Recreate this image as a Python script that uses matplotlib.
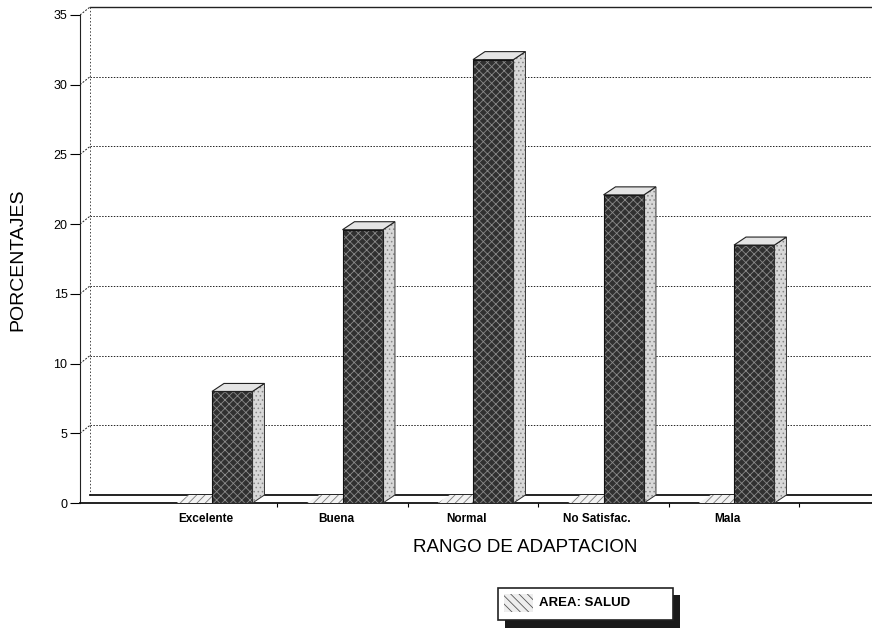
import matplotlib
matplotlib.use("Agg")
import matplotlib.pyplot as plt
from matplotlib.patches import Polygon, Rectangle

plt.rcParams['font.family'] = ['Liberation Sans', 'DejaVu Sans']
plt.rcParams['hatch.linewidth'] = 0.6

categories = ["Excelente", "Buena", "Normal", "No Satisfac.", "Mala"]
values = [8.0, 19.6, 31.8, 22.1, 18.5]
yticks = [0, 5, 10, 15, 20, 25, 30, 35]
series_name = "AREA: SALUD"
xlabel = "RANGO DE ADAPTACION"
ylabel = "PORCENTAJES"

W, H = 872, 635
fig = plt.figure(figsize=(W / 100, H / 100), dpi=100)

def fx(px):
    return px / W

def fy(py):
    return 1 - py / H

# axes: pixel x 80..872, y 503 (0) .. 3 (top)
ax = fig.add_axes([fx(80), fy(503), fx(872) - fx(80), fy(3) - fy(503)])
px_per_x = 130.5
px_per_y = 488.0 / 35.0
x0 = (80 - 212) / px_per_x
x1 = x0 + 792 / px_per_x
ax.set_xlim(x0, x1)
ax.set_ylim(0, 500 / px_per_y)

ddx = 12 / px_per_x
ddy = 8 / px_per_y
wall = x0 + 10 / px_per_x
bw = 0.31

# gridlines with 3D connectors
for t in yticks:
    if t == 0:
        continue
    ax.plot([x0, wall], [t, t + ddy], color='#222222', lw=0.7, ls=(0, (2, 1.5)))
    ls = '-' if t == 35 else (0, (1.5, 1.5))
    lw = 1.0 if t == 35 else 0.7
    ax.plot([wall, x1], [t + ddy, t + ddy], color='#222222', lw=lw, ls=ls, zorder=1)
# back wall
ax.plot([wall, wall], [ddy, 35 + ddy], color='#444444', lw=0.7, ls=(0, (1.5, 2)), zorder=1)
# floor line
ax.plot([wall, x1], [ddy, ddy], color='#111111', lw=1.3, zorder=2)

positions = list(range(len(categories)))
for i, v in zip(positions, values):
    # hatched floor segment (empty series)
    ax.add_patch(Polygon([(i - 0.27, 0), (i, 0), (i + ddx, ddy), (i - 0.27 + ddx, ddy)],
                         closed=True, facecolor='#f2f2f2', edgecolor='#777777',
                         hatch='////', lw=0, zorder=3))
    # front face
    ax.bar(i + bw / 2, v, width=bw, color='#303030', edgecolor='#8a8a8a',
           hatch='xxxx', lw=0, zorder=4)
    ax.add_patch(Rectangle((i, 0), bw, v, fill=False, edgecolor='#111111', lw=0.8, zorder=5))
    # side face
    side = [(i + bw, 0), (i + bw + ddx, ddy), (i + bw + ddx, v + ddy), (i + bw, v)]
    ax.add_patch(Polygon(side, closed=True, facecolor='#d8d8d8', edgecolor='#888888',
                         hatch='....', lw=0, zorder=4))
    ax.add_patch(Polygon(side, closed=True, fill=False, edgecolor='#333333', lw=0.7, zorder=5))
    # top face
    ax.add_patch(Polygon([(i, v), (i + ddx, v + ddy), (i + bw + ddx, v + ddy), (i + bw, v)],
                         closed=True, facecolor='#e4e4e4', edgecolor='#222222', lw=0.8, zorder=5))

for s in ['top', 'right']:
    ax.spines[s].set_visible(False)
ax.spines['left'].set_bounds(0, 35)
ax.spines['left'].set_color('#222222')
ax.spines['bottom'].set_color('#111111')
ax.spines['bottom'].set_linewidth(1.3)

ax.set_yticks(yticks)
ax.set_yticklabels([str(t) for t in yticks], fontsize=9)
ax.tick_params(axis='y', direction='out', length=7, width=0.8, pad=2)

ax.set_xticks([p - 0.05 for p in positions])
ax.set_xticklabels(categories, fontsize=8.5, fontweight='bold')
ax.tick_params(axis='x', length=0, pad=7)
ax.set_xticks([p + 0.5 for p in positions], minor=True)
ax.tick_params(axis='x', which='minor', length=3, width=0.8, direction='out')

fig.text(fx(525), fy(548), xlabel, fontsize=13.5, ha='center', va='center')
fig.text(fx(18), fy(260), ylabel, fontsize=14, ha='center', va='center', rotation=90)

# legend (custom, with shadow)
fig.add_artist(Rectangle((fx(505), fy(628)), fx(680) - fx(505), fy(595) - fy(628),
                         transform=fig.transFigure, facecolor='#1a1a1a', edgecolor='none'))
fig.add_artist(Rectangle((fx(498), fy(620)), fx(673) - fx(498), fy(588) - fy(620),
                         transform=fig.transFigure, facecolor='white', edgecolor='#222222', lw=1.2))
fig.add_artist(Rectangle((fx(504), fy(612)), fx(533) - fx(504), fy(594) - fy(612),
                         transform=fig.transFigure, facecolor='#eeeeee', edgecolor='#555555',
                         hatch='\\\\\\\\', lw=0))
fig.text(fx(539), fy(603), series_name, fontsize=9.5, fontweight='bold', ha='left', va='center')

fig.savefig("out.png", dpi=100)
